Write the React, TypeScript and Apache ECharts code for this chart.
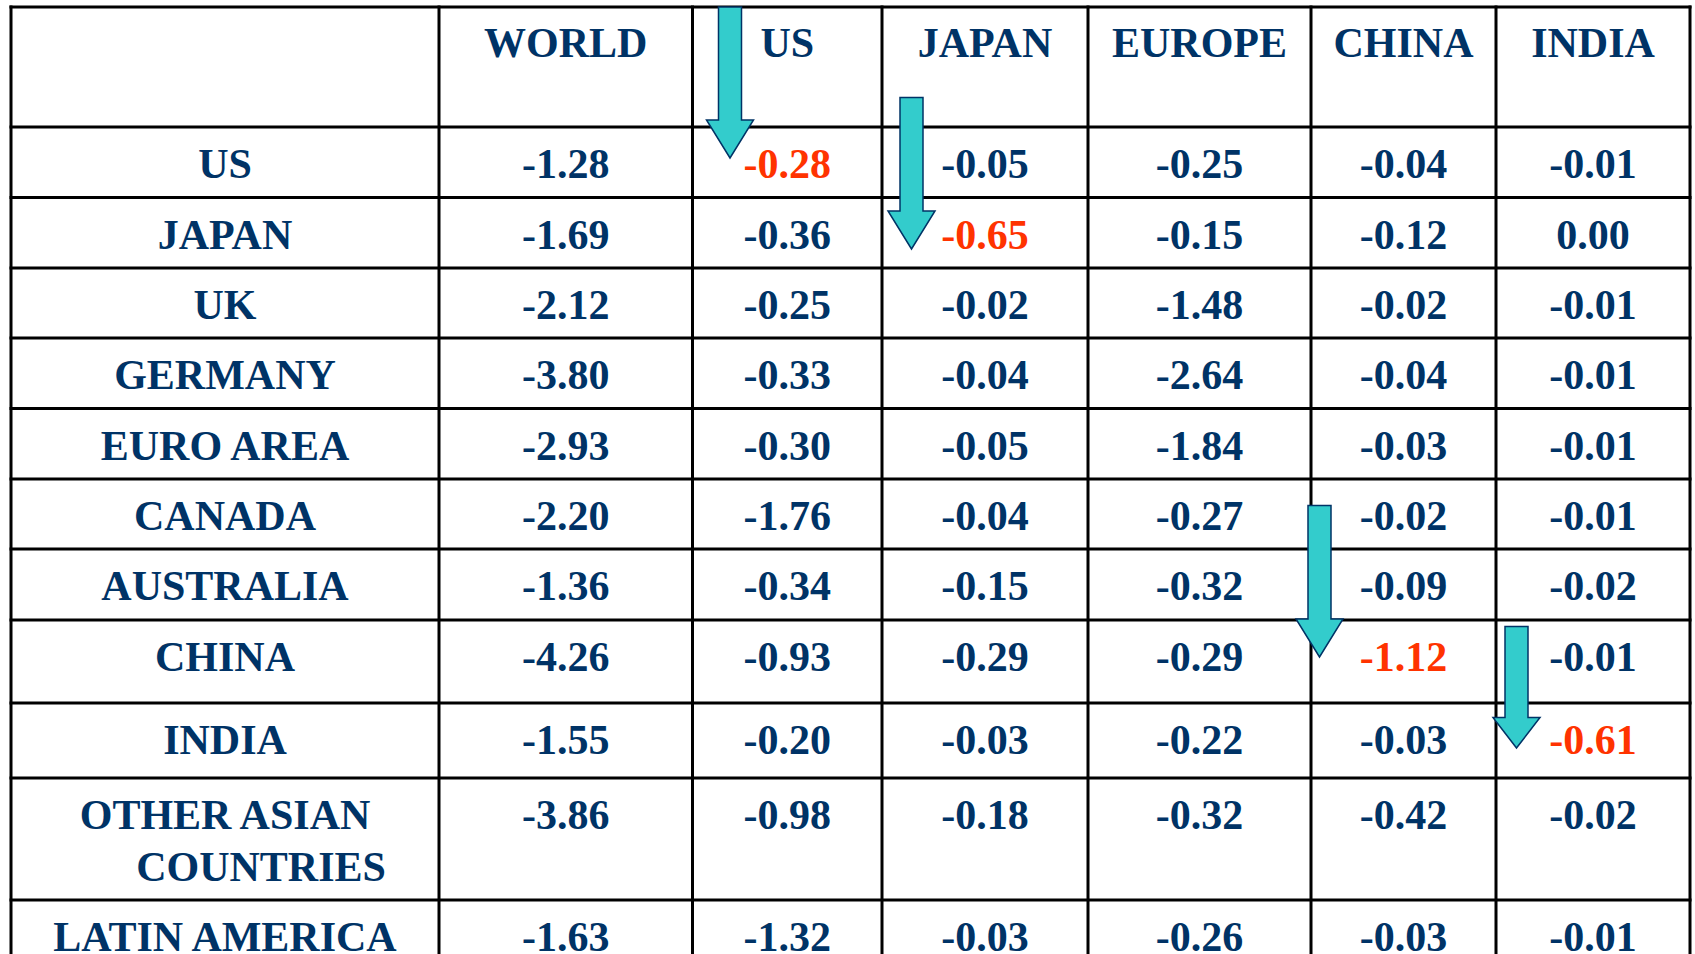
import React, { useEffect, useRef } from "react";
import * as echarts from "echarts";

// ---------- data ----------
const columns = ["WORLD", "US", "JAPAN", "EUROPE", "CHINA", "INDIA"];
const rows = [
  "US",
  "JAPAN",
  "UK",
  "GERMANY",
  "EURO AREA",
  "CANADA",
  "AUSTRALIA",
  "CHINA",
  "INDIA",
  "OTHER ASIAN\nCOUNTRIES",
  "LATIN AMERICA",
];
const world = [-1.28, -1.69, -2.12, -3.8, -2.93, -2.2, -1.36, -4.26, -1.55, -3.86, -1.63];
const us = [-0.28, -0.36, -0.25, -0.33, -0.3, -1.76, -0.34, -0.93, -0.2, -0.98, -1.32];
const japan = [-0.05, -0.65, -0.02, -0.04, -0.05, -0.04, -0.15, -0.29, -0.03, -0.18, -0.03];
const europe = [-0.25, -0.15, -1.48, -2.64, -1.84, -0.27, -0.32, -0.29, -0.22, -0.32, -0.26];
const china = [-0.04, -0.12, -0.02, -0.04, -0.03, -0.02, -0.09, -1.12, -0.03, -0.42, -0.03];
const india = [-0.01, 0.0, -0.01, -0.01, -0.01, -0.01, -0.02, -0.01, -0.61, -0.02, -0.01];
const valuesByColumn = [world, us, japan, europe, china, india];

// ---------- layout / style ----------
const COL_X = [11, 439, 692.5, 882, 1088, 1311, 1496, 1690];
const ROW_Y = [7, 127, 197.5, 268, 338, 408.5, 479, 549, 620, 703, 778, 900, 1030];
const TEXT_DY = 37;
const LINE_GAP = 52;
const WRAP_DX = 36;
const NAVY = "#003366";
const RED = "#FF3300";
const CYAN = "#33CCCC";
const FONT = { fontFamily: '"Liberation Serif", "Times New Roman", serif', fontWeight: "bold", fontSize: 42 } as const;

// arrow geometry for highlighted (own-country) cells, keyed by column
const ARROW_GEOM: Record<string, { tipX: number; tipY: number; topY: number; headY: number }> = {
  US: { tipX: 730, tipY: 158, topY: 7, headY: 120 },
  JAPAN: { tipX: 911.5, tipY: 249, topY: 97.5, headY: 211 },
  CHINA: { tipX: 1319.5, tipY: 657, topY: 505.5, headY: 619 },
  INDIA: { tipX: 1516.5, tipY: 748, topY: 626.5, headY: 717.5 },
};
const SHAFT_HALF = 11.5;
const HEAD_HALF = 23.5;

const colCenter = (c: number) => (COL_X[c] + COL_X[c + 1]) / 2;

export default function App() {
  const ref = useRef<HTMLDivElement>(null);

  useEffect(() => {
    if (!ref.current) return;
    const chart = echarts.init(ref.current, undefined, { renderer: "svg" });

    const cellData: number[][] = [];
    columns.forEach((_, c) => rows.forEach((_, r) => cellData.push([c, r, valuesByColumn[c][r]])));
    const highlightData: number[][] = [];
    columns.forEach((col, c) =>
      rows.forEach((row, r) => {
        if (row === col) highlightData.push([c, r, valuesByColumn[c][r]]);
      })
    );

    const option: any = {
      animation: false,
      backgroundColor: "#ffffff",
      series: [
        {
          type: "custom",
          name: "grid",
          coordinateSystem: "none",
          silent: true,
          z: 1,
          data: [[0]],
          renderItem: () => {
            const children: any[] = [];
            const top = ROW_Y[0];
            const bottom = ROW_Y[ROW_Y.length - 1];
            COL_X.forEach((x) =>
              children.push({
                type: "line",
                shape: { x1: x, y1: top, x2: x, y2: bottom },
                style: { stroke: "#000", lineWidth: 3, lineCap: "square" },
              })
            );
            ROW_Y.slice(0, -1).forEach((y) =>
              children.push({
                type: "line",
                shape: { x1: COL_X[0], y1: y, x2: COL_X[COL_X.length - 1], y2: y },
                style: { stroke: "#000", lineWidth: 3, lineCap: "square" },
              })
            );
            return { type: "group", children };
          },
        },
        {
          type: "custom",
          name: "headers",
          coordinateSystem: "none",
          silent: true,
          z: 2,
          data: columns.map((_, c) => [c]),
          renderItem: (params: any, api: any) => {
            const c = api.value(0);
            return {
              type: "text",
              x: colCenter(c + 1),
              y: ROW_Y[0] + TEXT_DY - 1,
              style: { text: columns[c], fill: NAVY, align: "center", verticalAlign: "middle", ...FONT },
            };
          },
        },
        {
          type: "custom",
          name: "rowLabels",
          coordinateSystem: "none",
          silent: true,
          z: 2,
          data: rows.map((_, r) => [r]),
          renderItem: (params: any, api: any) => {
            const r = api.value(0);
            const lines = rows[r].split("\n");
            return {
              type: "group",
              children: lines.map((ln, i) => ({
                type: "text",
                x: colCenter(0) + (i > 0 ? WRAP_DX : 0),
                y: ROW_Y[r + 1] + TEXT_DY + i * LINE_GAP,
                style: { text: ln, fill: NAVY, align: "center", verticalAlign: "middle", ...FONT },
              })),
            };
          },
        },
        {
          type: "custom",
          name: "values",
          coordinateSystem: "none",
          silent: true,
          z: 2,
          data: cellData,
          renderItem: (params: any, api: any) => {
            const c = api.value(0);
            const r = api.value(1);
            const v = api.value(2);
            const own = rows[r] === columns[c];
            return {
              type: "text",
              x: colCenter(c + 1),
              y: ROW_Y[r + 1] + TEXT_DY,
              style: {
                text: v.toFixed(2),
                fill: own ? RED : NAVY,
                align: "center",
                verticalAlign: "middle",
                ...FONT,
              },
            };
          },
        },
        {
          type: "custom",
          name: "arrows",
          coordinateSystem: "none",
          silent: true,
          z: 5,
          data: highlightData,
          renderItem: (params: any, api: any) => {
            const c = api.value(0);
            const g = ARROW_GEOM[columns[c]];
            if (!g) return null;
            const x = g.tipX;
            return {
              type: "polygon",
              shape: {
                points: [
                  [x - SHAFT_HALF, g.topY],
                  [x + SHAFT_HALF, g.topY],
                  [x + SHAFT_HALF, g.headY],
                  [x + HEAD_HALF, g.headY],
                  [x, g.tipY],
                  [x - HEAD_HALF, g.headY],
                  [x - SHAFT_HALF, g.headY],
                ],
              },
              style: { fill: CYAN, stroke: NAVY, lineWidth: 1.5 },
            };
          },
        },
      ],
    };

    chart.setOption(option);
    return () => chart.dispose();
  }, []);

  return (
    <div
      ref={ref}
      style={{ position: "fixed", left: 0, top: 0, width: 1695, height: 954, background: "#fff" }}
    />
  );
}
